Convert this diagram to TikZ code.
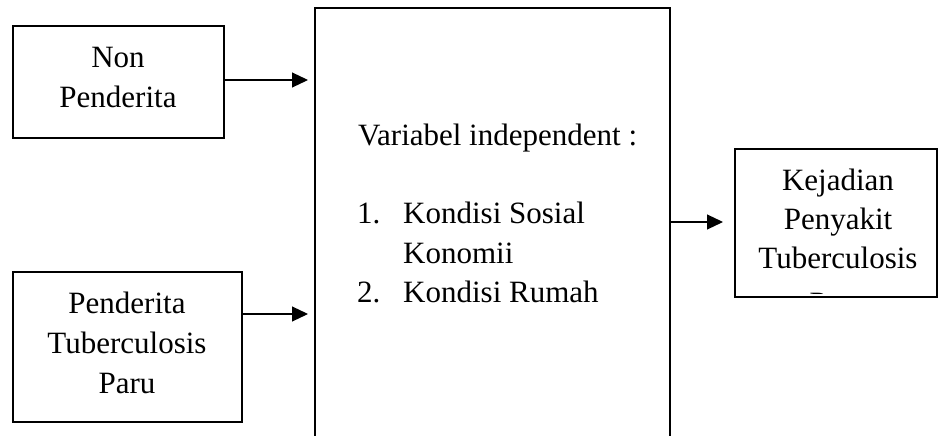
\documentclass[tikz,border=0pt]{standalone}
\usepackage{fontspec}
\setmainfont{Liberation Serif}
\usetikzlibrary{arrows.meta}
\tikzset{
  box/.style={draw, line width=1.6pt, inner sep=0pt, outer sep=0pt},
  txt/.style={inner sep=0pt, font=\fontsize{31}{39}\selectfont, anchor=base},
  ltxt/.style={txt, anchor=base west},
  arr/.style={line width=1.1pt, -{Triangle[length=16pt,width=15pt]}}
}
\begin{document}
\begin{tikzpicture}[x=1pt,y=1pt]
\useasboundingbox (0,0) rectangle (938,-436);
\clip (0,0) rectangle (938,-436);
% boxes
\node[box, minimum width=211pt, minimum height=112pt] (a) at (118.5,-82) {};
\node[box, minimum width=229pt, minimum height=150pt] (b) at (127.5,-347) {};
\node[box, anchor=north, minimum width=355pt, minimum height=470pt] (mid) at (492.5,-8) {};
\node[box, minimum width=202pt, minimum height=148pt] (c) at (836,-223) {};
% texts of box a
\node[txt] (a1) at (118,-68) {Non};
\node[txt] (a2) at (118,-107) {Penderita};
% texts of box b
\node[txt] (b1) at (127,-313) {Penderita};
\node[txt] (b2) at (127,-353) {Tuberculosis};
\node[txt] (b3) at (127,-393) {Paru};
% texts of middle box
\node[ltxt] (m0) at (358,-145) {Variabel independent :};
\node[ltxt] (m1n) at (357,-223) {1.};
\node[ltxt] (m1) at (403,-223) {Kondisi Sosial};
\node[ltxt] (m2) at (403,-263) {Konomii};
\node[ltxt] (m3n) at (357,-302) {2.};
\node[ltxt] (m3) at (403,-302) {Kondisi Rumah};
% texts of box c (clipped inside the box)
\begin{scope}
\clip (c.north west) rectangle ([yshift=4pt]c.south east);
\node[txt] (c1) at (838,-190) {Kejadian};
\node[txt] (c2) at (838,-229) {Penyakit};
\node[txt] (c3) at (838,-268) {Tuberculosis};
\node[txt] (c4) at (838,-313) {Paru};
\end{scope}
% arrow end points
\coordinate (ea) at (308,-80);
\coordinate (eb) at (308,-314);
\coordinate (ec) at (723,-222);
% connectors
\draw[arr] (a.east |- ea) -- (ea);
\draw[arr] (b.east |- eb) -- (eb);
\draw[arr] (mid.east |- ec) -- (ec);
\end{tikzpicture}
\end{document}
